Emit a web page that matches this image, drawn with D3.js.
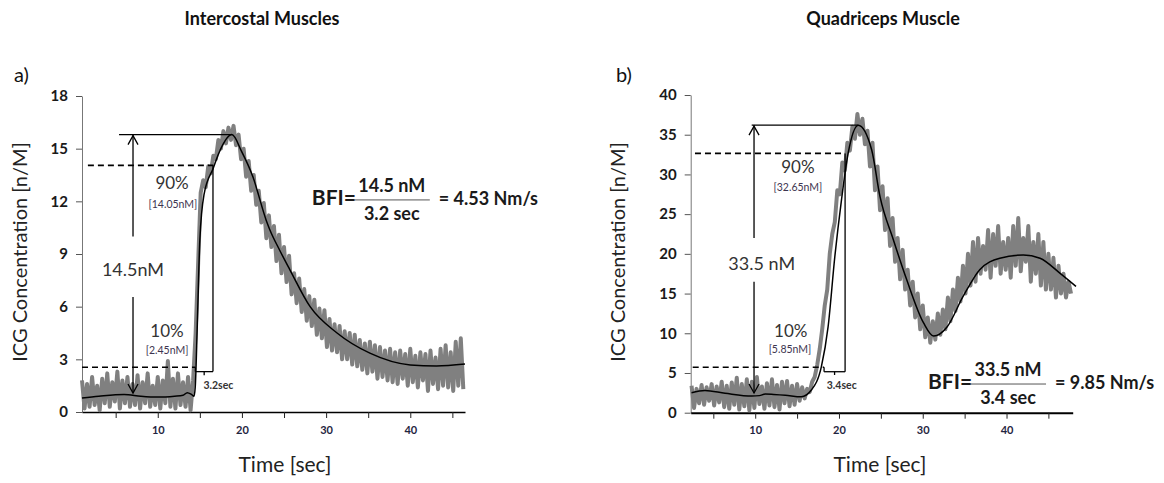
<!DOCTYPE html>
<html>
<head>
<meta charset="utf-8">
<script src="https://cdn.jsdelivr.net/npm/d3@7"></script>
<style>
  body { margin: 0; background: #fff; }
  svg { display: block; font-family: Lato, "Open Sans", sans-serif; }
</style>
</head>
<body>
<div id="chart"></div>
<script>
// ---- data ----
const titles = ["Intercostal Muscles", "Quadriceps Muscle"];
const panelTags = ["a)", "b)"];
const yLabel = "ICG Concentration [n/M]";
const xLabel = "Time [sec]";

const xTicks = [5, 10, 15, 20, 25, 30, 35, 40, 45];
const xTickLabels = [10, 20, 30, 40];
const yTicksA = [0, 3, 6, 9, 12, 15, 18];
const yTicksB = [0, 5, 10, 15, 20, 25, 30, 35, 40];

// raw ICG signal, sampled every 0.3 s
const rawStartA = 1.0, rawStepA = 0.3;
const rawA = [
  1.8, 0.2, 1.6, 0.3, 2.0, 0.4, 1.5, 0.1, 1.9, 0.5, 2.2, 0.3, 1.7, 0.6, 2.3, 0.2,
  1.8, 0.5, 2.0, 0.3, 1.6, 0.4, 2.1, 0.2, 1.7, 0.5, 2.2, 0.3, 1.5, 0.4, 2.0, 0.2,
  1.8, 0.5, 2.9, 0.3, 1.9, 0.2, 2.2, 0.4, 1.7, 0.3, 2.0, 0.1, 1.8,
  4.5, 8.5, 12.5, 13.2, 12.8, 14.0, 13.6, 14.6, 14.4, 15.5, 15.0, 16.0, 15.3, 16.2,
  15.5, 16.3, 15.2, 15.8, 14.4, 15.0, 13.4, 14.3, 12.6, 13.5, 11.8, 12.6, 10.8, 11.9,
  9.9, 11.2, 9.4, 10.6, 8.6, 10.1, 7.9, 9.4, 7.4, 8.9, 6.7, 7.9, 6.2, 7.6, 5.7, 7.0,
  5.2, 6.6, 4.9, 6.4, 4.4, 5.9, 4.2, 5.8, 3.7, 5.3, 3.5, 5.0, 3.4, 4.9, 3.0, 4.6,
  3.0, 4.5, 2.7, 4.4, 2.6, 4.1, 2.4, 3.9, 2.2, 4.0, 2.3, 3.8, 1.9, 3.7, 2.0, 3.5,
  1.8, 3.6, 1.7, 3.4, 1.6, 3.5, 1.9, 3.3, 1.5, 3.6, 1.7, 3.2, 1.4, 3.4, 1.8, 3.3,
  1.2, 3.5, 1.6, 3.1, 1.3, 3.6, 1.5, 3.8, 1.4, 3.4, 1.2, 4.0, 1.5, 4.2, 1.3
];
const rawStartB = 2.4, rawStepB = 0.3;
const rawB = [
  3.4, 0.6, 3.0, 1.2, 3.5, 1.0, 3.2, 1.5, 3.6, 0.9, 3.3, 1.3, 3.9, 0.7, 3.4, 0.5,
  3.8, 1.0, 4.4, 0.4, 3.6, 0.8, 4.2, 0.3, 3.9, 0.6, 4.5, 1.1, 3.3, 0.5, 3.7, 0.9,
  4.2, 0.7, 3.5, 0.4, 3.9, 1.2, 4.0, 0.8, 3.4, 1.0, 3.6, 1.5, 3.2, 1.8, 3.0, 2.6,
  3.9, 4.5, 6.0, 8.0, 10.5, 13.5, 15.5, 20.0, 22.5, 24.0, 28.0, 27.5, 31.5, 30.5,
  34.0, 33.0, 36.0, 34.5, 37.6, 35.0, 37.0, 33.8, 35.5, 31.0, 34.0, 28.0, 31.0, 25.5,
  28.5, 23.0, 27.0, 21.0, 24.5, 19.0, 22.0, 16.8, 20.5, 15.5, 18.0, 13.5, 16.5, 12.0,
  15.0, 10.5, 13.5, 9.5, 12.0, 8.8, 11.5, 9.2, 12.5, 9.8, 13.0, 10.5, 14.5, 11.5,
  15.5, 12.8, 17.0, 14.0, 18.5, 15.0, 20.0, 16.0, 21.5, 16.5, 22.0, 17.5, 21.0, 18.0,
  23.0, 17.0, 22.5, 18.5, 23.5, 17.5, 21.5, 18.0, 22.0, 17.0, 23.5, 18.5, 24.5, 17.8,
  22.0, 19.0, 23.5, 16.5, 21.5, 17.5, 22.5, 16.0, 21.5, 15.5, 20.0, 15.5, 19.5, 14.5,
  18.5, 15.0, 17.5, 14.5, 16.5, 15.0
];

// fitted curve (black)
const fitTimeA = [1, 3, 6, 8, 10, 12, 13, 13.5, 14, 14.3, 14.45, 14.7, 15.0, 15.5, 16.6, 17.4, 18.8, 20, 21.3, 22.9, 23.3, 24.5, 25.7, 28.1, 31.3, 35.2, 40, 43.1, 46.5];
const fitValA  = [0.8, 0.9, 1.0, 0.9, 0.85, 0.9, 0.95, 1.1, 1.0, 0.9, 1.4, 5.0, 9.8, 12.4, 13.9, 14.9, 15.8, 14.8, 13.4, 10.9, 10.4, 9.2, 8.1, 6.0, 4.5, 3.35, 2.68, 2.62, 2.73];
const fitTimeB = [2.4, 4.0, 6.4, 9.6, 10.5, 11.2, 12.2, 13.6, 15.5, 16.7, 17.9, 18.7, 19.5, 20.3, 21.1, 22.3, 23.9, 24.9, 26.5, 28.1, 30.1, 31.3, 32.9, 34.8, 36.8, 39.2, 42.0, 44.0, 46.4, 48.3];
const fitValB  = [2.5, 2.8, 2.45, 2.1, 2.15, 2.35, 2.3, 2.2, 2.0, 2.85, 5.8, 10.8, 19.6, 26.8, 32.7, 36.2, 33.1, 27.2, 21.75, 16.7, 11.3, 9.65, 10.8, 14.6, 18.0, 19.45, 19.86, 19.45, 17.55, 15.9];

// BFI annotation values
const peakA = 15.8, level90A = 14.05, level10A = 2.55, t10A = 14.47, t90A = 16.56;
const peakB = 36.2, level90B = 32.65, level10B = 5.72, t10B = 18.22, t90B = 20.73;

// ---- drawing ----
const W = 1164, H = 483;
const svg = d3.select("#chart").append("svg")
    .attr("width", W)
    .attr("height", H);
svg.append("rect").attr("width", W).attr("height", H).attr("fill", "#fff");

const panels = [
  {
    title: titles[0], tag: panelTags[0], titleX: 262, tagX: 14, yLabelX: 22, timeX: 285,
    xDomain: [1, 46.5], xRange: [82, 465], yDomain: [0, 18], yRange: [412, 96],
    yTicks: yTicksA, xAxisWidth: 1.5,
    raw: rawA.map((v, i) => [rawStartA + i * rawStepA, v]),
    fit: fitTimeA.map((t, i) => [t, fitValA[i]]),
    peak: peakA, l90: level90A, l10: level10A, t10: t10A, t90: t90A,
    topFrom: 5.4, dash90From: 1.7, dash10From: 1.0, arrowX: 7.06,
    upFrom: 10.0, downFrom: 6.55, downTo: 1.08, bracketLow: 2.3, bracketTick: 2.1,
    texts: [
      { t: "90%", x: 11.7, y: 12.93, size: 17, fill: "#333" },
      { t: "[14.05nM]", x: 11.8, y: 11.8, size: 10.5, fill: "#3d3550" },
      { t: "14.5nM", x: 7.06, y: 7.98, size: 18, fill: "#333" },
      { t: "10%", x: 11.1, y: 4.5, size: 17, fill: "#333" },
      { t: "[2.45nM]", x: 11.1, y: 3.44, size: 10.5, fill: "#3d3550" },
      { t: "3.2sec", x: 17.2, y: 1.44, size: 10.5, fill: "#333", weight: "bold" }
    ],
    bfi: { x: 28.3, y: 12.08, num: "14.5 nM", den: "3.2 sec", res: "= 4.53 Nm/s" }
  },
  {
    title: titles[1], tag: panelTags[1], titleX: 883, tagX: 616, yLabelX: 620, timeX: 880,
    xDomain: [2.3, 47.9], xRange: [690.7, 1072.7], yDomain: [0, 40], yRange: [412.7, 95],
    yTicks: yTicksB, xAxisWidth: 2,
    raw: rawB.map((v, i) => [rawStartB + i * rawStepB, v]),
    fit: fitTimeB.map((t, i) => [t, fitValB[i]]),
    peak: peakB, l90: level90B, l10: level10B, t10: t10B, t90: t90B,
    topFrom: 9.58, dash90From: 2.81, dash10From: 2.54, arrowX: 9.86,
    upFrom: 22.0, downFrom: 16.5, downTo: 2.48, bracketLow: 5.16, bracketTick: 4.75,
    texts: [
      { t: "90%", x: 15.1, y: 30.69, size: 17, fill: "#333" },
      { t: "[32.65nM]", x: 15.1, y: 28.3, size: 10.5, fill: "#3d3550" },
      { t: "33.5 nM", x: 10.78, y: 18.6, size: 18, fill: "#333" },
      { t: "10%", x: 14.24, y: 10.04, size: 17, fill: "#333" },
      { t: "[5.85nM]", x: 14.15, y: 7.9, size: 10.5, fill: "#3d3550" },
      { t: "3.4sec", x: 20.33, y: 3.36, size: 10.5, fill: "#333", weight: "bold" }
    ],
    bfi: { x: 30.63, y: 3.61, num: "33.5 nM", den: "3.4 sec", res: "= 9.85 Nm/s" }
  }
];

panels.forEach(p => {
  const x = d3.scaleLinear().domain(p.xDomain).range(p.xRange);
  const y = d3.scaleLinear().domain(p.yDomain).range(p.yRange);
  const g = svg.append("g");

  // titles
  g.append("text").attr("x", p.titleX).attr("y", 25)
    .attr("text-anchor", "middle").attr("font-weight", "bold").attr("font-size", 18)
    .attr("fill", "#111").text(p.title);
  g.append("text").attr("x", p.tagX).attr("y", 82)
    .attr("font-size", 20).attr("fill", "#111").text(p.tag);

  // axes
  const yAxis = g.append("g")
    .attr("transform", `translate(${p.xRange[0]},0)`)
    .call(d3.axisLeft(y).tickValues(p.yTicks).tickSize(6).tickSizeOuter(0).tickPadding(8));
  yAxis.select(".domain").attr("stroke", "#777");
  yAxis.selectAll(".tick line").attr("stroke", "#555");
  yAxis.selectAll(".tick text").attr("font-size", 15).attr("font-weight", "bold")
    .attr("fill", "#1a1a1a").attr("font-family", "Lato, sans-serif");

  const xAxis = g.append("g")
    .attr("transform", `translate(0,${p.yRange[0]})`)
    .call(d3.axisBottom(x).tickValues(xTicks).tickSize(6).tickSizeOuter(0).tickPadding(8)
      .tickFormat(d => xTickLabels.includes(d) ? d : ""));
  xAxis.select(".domain").attr("stroke", "#000").attr("stroke-width", p.xAxisWidth);
  xAxis.selectAll(".tick line").attr("stroke", "#222");
  xAxis.selectAll(".tick text").attr("font-size", 11).attr("font-weight", "bold")
    .attr("fill", "#1f2540").attr("font-family", "Lato, sans-serif");

  g.append("text")
    .attr("transform", `translate(${p.yLabelX},252) rotate(-90)`)
    .attr("text-anchor", "middle").attr("dominant-baseline", "middle")
    .attr("font-size", 20).attr("fill", "#222").text(yLabel);
  g.append("text").attr("x", p.timeX).attr("y", 472)
    .attr("text-anchor", "middle").attr("font-size", 21).attr("fill", "#222").text(xLabel);

  // raw signal and fit
  const line = d3.line().x(d => x(d[0])).y(d => y(d[1]));
  g.append("path").datum(p.raw)
    .attr("d", line)
    .attr("fill", "none").attr("stroke", "#808080").attr("stroke-width", 4)
    .attr("stroke-linejoin", "round");
  g.append("path").datum(p.fit)
    .attr("d", line.curve(d3.curveMonotoneX))
    .attr("fill", "none").attr("stroke", "#000").attr("stroke-width", 1.5);

  // annotation lines
  const seg = (x1, y1, x2, y2, dash) => g.append("line")
    .attr("x1", x(x1)).attr("y1", y(y1)).attr("x2", x(x2)).attr("y2", y(y2))
    .attr("stroke", "#000").attr("stroke-width", dash ? 1.6 : 1.3)
    .attr("stroke-dasharray", dash ? "6,4" : null);
  seg(p.topFrom, p.peak, p.fit.find(d => d[1] === d3.max(p.fit, f => f[1]))[0], p.peak);
  seg(p.dash90From, p.l90, p.t90, p.l90, true);
  seg(p.dash10From, p.l10, p.t10, p.l10, true);
  seg(p.t90, p.l90, p.t90, p.bracketLow);
  // bracket
  seg(p.t10, p.l10, p.t10, p.bracketLow);
  seg(p.t10, p.bracketLow, p.t90, p.bracketLow);
  seg((p.t10 + p.t90) / 2, p.bracketLow, (p.t10 + p.t90) / 2, p.bracketTick);

  // arrows
  const ax = x(p.arrowX);
  seg(p.arrowX, p.upFrom, p.arrowX, p.peak);
  seg(p.arrowX, p.downFrom, p.arrowX, p.downTo);
  const head = (px, py, dir) => g.append("path")
    .attr("d", `M${px - 5},${py - dir * 9}L${px},${py}L${px + 5},${py - dir * 9}`)
    .attr("fill", "none").attr("stroke", "#000").attr("stroke-width", 1.3);
  head(ax, y(p.peak) + 1, -1);
  head(ax, y(p.downTo), 1);

  // annotation texts
  p.texts.forEach(t => g.append("text")
    .attr("x", x(t.x)).attr("y", y(t.y))
    .attr("text-anchor", "middle").attr("dominant-baseline", "middle")
    .attr("font-size", t.size).attr("font-weight", t.weight || "normal")
    .attr("fill", t.fill).text(t.t));

  // BFI formula
  const bx = x(p.bfi.x), by = y(p.bfi.y);
  const b = g.append("g").attr("transform", `translate(${bx},${by})`)
    .attr("font-weight", "bold").attr("fill", "#1a1a1a");
  b.append("text").attr("x", 0).attr("y", 0).attr("dominant-baseline", "middle")
    .attr("font-size", 21).text("BFI=");
  b.append("line").attr("x1", 42).attr("x2", 118).attr("y1", 0).attr("y2", 0)
    .attr("stroke", "#555").attr("stroke-width", 1);
  b.append("text").attr("x", 80).attr("y", -13).attr("text-anchor", "middle")
    .attr("dominant-baseline", "middle").attr("font-size", 18).text(p.bfi.num);
  b.append("text").attr("x", 80).attr("y", 15).attr("text-anchor", "middle")
    .attr("dominant-baseline", "middle").attr("font-size", 18).text(p.bfi.den);
  b.append("text").attr("x", 127).attr("y", 0).attr("dominant-baseline", "middle")
    .attr("font-size", 18).text(p.bfi.res);
});
</script>
</body>
</html>
